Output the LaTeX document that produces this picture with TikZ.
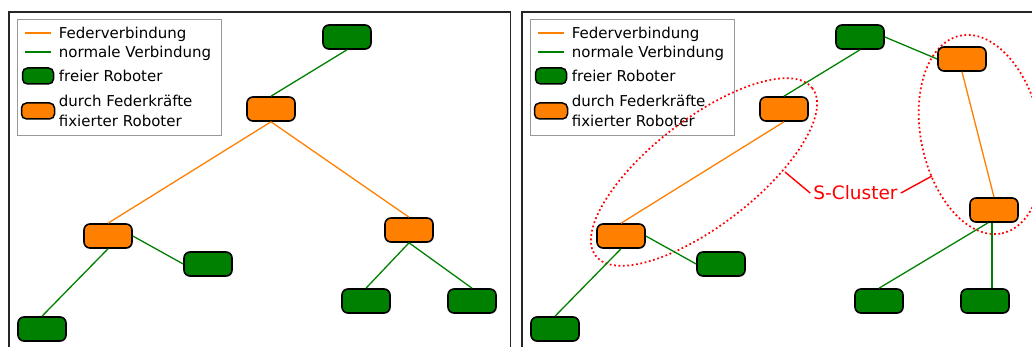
\documentclass[tikz,border=0pt]{standalone}
\usepackage{fontspec}
\setmainfont{DejaVu Sans}
\usetikzlibrary{shadows}
\definecolor{robotorange}{RGB}{255,128,0}
\definecolor{robotgreen}{RGB}{0,128,0}

% legend block, drawn once per panel; #1 is a prefix for the node names
\newcommand\robotlegend[1]{%
  \draw[legendbox] (17,20) rectangle (221,136);
  \coordinate (#1s1) at (25,33);   \coordinate (#1s2) at (51,33);
  \coordinate (#1n1) at (25,52);   \coordinate (#1n2) at (51,52);
  \draw[spring] (#1s1) -- (#1s2);
  \draw[link] (#1n1) -- (#1n2);
  \node[legendtext] (#1t1) at (58.7,39) {Federverbindung};
  \node[legendtext] (#1t2) at (58.7,57.5) {normale Verbindung};
  \node[keyrobot, fill=robotgreen] (#1k1) at (38,76) {};
  \node[legendtext] (#1t3) at (58.7,82) {freier Roboter};
  \node[keyrobot, fill=robotorange, minimum width=33pt] (#1k2) at (38,111) {};
  \node[legendtext] (#1t4) at (58.7,106.5) {durch Federkräfte};
  \node[legendtext] (#1t5) at (58.7,126.5) {fixierter Roboter};
}

\begin{document}
\begin{tikzpicture}[x=1pt,y=-1pt,
  robot/.style={rectangle, rounded corners=6pt, minimum width=48pt,
    minimum height=24pt, inner sep=0pt, draw=black, line width=1.6pt,
    drop shadow={shadow xshift=0.8pt, shadow yshift=-0.8pt, opacity=0.3}},
  free/.style={robot, fill=robotgreen},
  fixed/.style={robot, fill=robotorange},
  keyrobot/.style={rectangle, rounded corners=5pt, minimum width=31pt,
    minimum height=16pt, inner sep=0pt, draw=black, line width=1.5pt},
  spring/.style={draw=robotorange, line width=1.3pt},
  link/.style={draw=robotgreen, line width=1.3pt},
  panel/.style={draw=black!85, line width=1.5pt},
  legendbox/.style={draw=black!40, line width=1pt, fill=white},
  legendtext/.style={anchor=base west, inner sep=0pt,
    font=\fontsize{15}{18}\selectfont},
  cluster/.style={draw=red, line width=1.7pt, dash pattern=on 1.8pt off 2.6pt},
  clusterlink/.style={draw=red, line width=1.4pt}
]
\useasboundingbox (0,0) rectangle (1032,347);
\fill[white] (0,0) rectangle (1032,347);
\clip (0,0) rectangle (1032,347);

% ---------- panel frames ----------
\draw[panel] (9,12) rectangle (510.5,360);
\draw[panel] (522,12) rectangle (1045,360);

% ---------- left panel: plain tree ----------
\robotlegend{L}
\node[free]  (L0)  at (347,37)  {};
\node[fixed] (LA)  at (271,109) {};
\node[fixed] (LB)  at (108,236) {};
\node[fixed] (LC)  at (409,230) {};
\node[free]  (Lg1) at (208,264) {};
\node[free]  (Lg2) at (42,329)  {};
\node[free]  (Lg3) at (366,301) {};
\node[free]  (Lg4) at (472,301) {};

\draw[link]   (L0.south) -- (LA.north);
\draw[spring] (LA.south) -- (LB.north);
\draw[spring] (LA.south) -- (LC.north);
\draw[link]   (LB.east)  -- (Lg1.west);
\draw[link]   (LB.south) -- (Lg2.north);
\draw[link]   (LC.south) -- (Lg3.north);
\draw[link]   (LC.south) -- (Lg4.north);

% ---------- right panel: tree with S-clusters ----------
\begin{scope}[xshift=513pt]
  \robotlegend{R}
\end{scope}

% dotted cluster outlines (behind the robots)
\draw[cluster, shift={(704,172)}, rotate=37.75]
  (0,0) ellipse [x radius=137pt, y radius=53pt];
\draw[cluster, shift={(981,134.5)}, rotate=-78]
  (0,0) ellipse [x radius=101pt, y radius=60pt];
\coordinate (cl1) at (785,172);
\coordinate (cl2) at (932,176);

\node[free]  (R0)  at (860,37)  {};
\node[fixed] (RA)  at (784,109) {};
\node[fixed] (RB)  at (621,236) {};
\node[free]  (Rg1) at (721,264) {};
\node[free]  (Rg2) at (555,329) {};
\node[fixed] (RD)  at (962,59)  {};
\node[fixed] (RE)  at (994,210) {};
\node[free]  (Rg3) at (879,301) {};
\node[free]  (Rg4) at (985,301) {};

\draw[link]   (R0.south) -- (RA.north);
\draw[spring] (RA.south) -- (RB.north);
\draw[link]   (RB.east)  -- (Rg1.west);
\draw[link]   (RB.south) -- (Rg2.north);
\draw[link]   (R0.east)  -- (RD.west);
\draw[spring] (RD.south) -- (RE.north);
\draw[link]   ([xshift=-6pt]RE.south) -- (Rg3.north);
\draw[link]   ([xshift=-2pt]RE.south) -- ([xshift=-2pt]RE.south |- Rg4.north);

% cluster label
\node[text=red, anchor=base, inner sep=3pt, font=\fontsize{18.5}{22}\selectfont]
  (sc) at (855.5,200) {S-Cluster};
\draw[clusterlink] (cl1) -- (sc.west);
\draw[clusterlink] (sc.east) -- (cl2);
\end{tikzpicture}
\end{document}
